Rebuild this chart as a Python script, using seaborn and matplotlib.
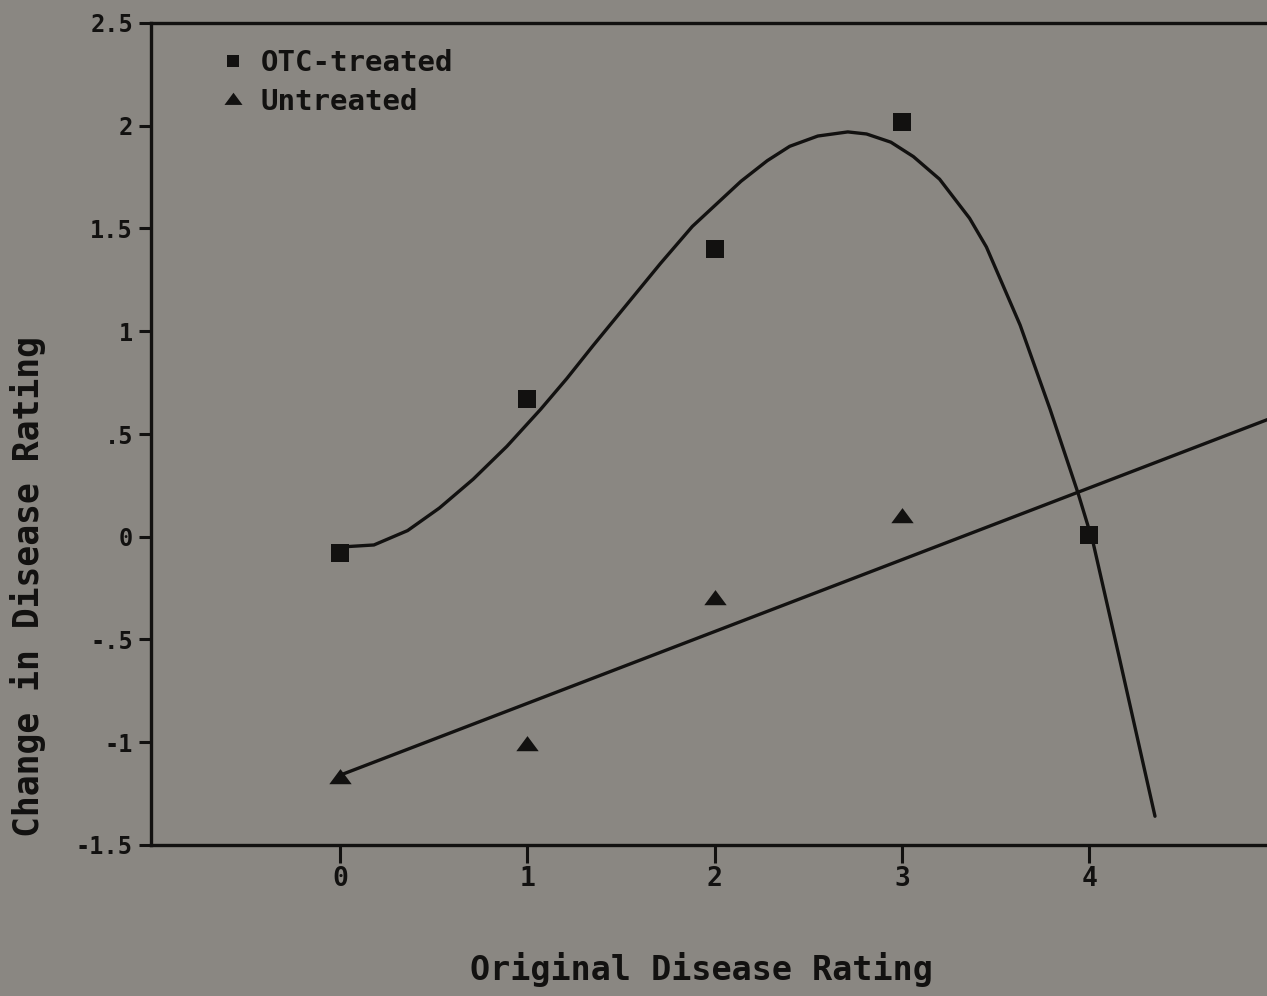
import matplotlib
matplotlib.use("Agg")
import matplotlib.pyplot as plt
from matplotlib.lines import Line2D
import seaborn as sns

# Observed mean change in disease rating by original rating
ratings = [0, 1, 2, 3, 4]
otc_change = [-0.08, 0.67, 1.40, 2.02, 0.01]
untreated_ratings = [0, 1, 2, 3]
untreated_change = [-1.17, -1.01, -0.30, 0.10]

# Fitted response curve for OTC-treated trees
otc_fit_x = [0.00, 0.18, 0.36, 0.53, 0.71, 0.89, 1.07, 1.21, 1.35, 1.53,
             1.71, 1.88, 2.14, 2.28, 2.40, 2.55, 2.71, 2.81, 2.94, 3.06,
             3.20, 3.36, 3.45, 3.63, 3.79, 3.94, 4.02, 4.16, 4.35]
otc_fit_y = [-0.05, -0.04, 0.03, 0.14, 0.28, 0.44, 0.62, 0.77, 0.93, 1.13,
             1.33, 1.51, 1.73, 1.83, 1.90, 1.95, 1.97, 1.96, 1.92, 1.85,
             1.74, 1.55, 1.41, 1.03, 0.62, 0.21, -0.03, -0.59, -1.36]

# Fitted straight line for untreated trees
untreated_fit_x = [0.0, 4.95]
untreated_fit_y = [-1.16, 0.57]

xticks = [0, 1, 2, 3, 4]
xtick_labels = ["0", "1", "2", "3", "4"]
yticks = [2.5, 2, 1.5, 1, 0.5, 0, -0.5, -1, -1.5]
ytick_labels = ["2.5", "2", "1.5", "1", ".5", "0", "-.5", "-1", "-1.5"]
series_labels = ["OTC-treated", "Untreated"]

BG = "#8a8782"
INK = "#121110"

sns.set_style("ticks")
plt.rcParams["font.family"] = ["DejaVu Sans Mono", "DejaVu Sans"]
plt.rcParams["font.weight"] = "bold"

fig = plt.figure(figsize=(12.67, 9.96), dpi=100, facecolor=BG)
W, H = 1267, 996
ax = fig.add_axes([151 / W, (H - 845) / H, (W - 151) / W, (845 - 23) / H])
ax.set_facecolor(BG)

# flattened triangle used for the untreated points
tri = [(-1.0, -0.6), (1.0, -0.6), (0.0, 0.75), (-1.0, -0.6)]

sns.lineplot(x=otc_fit_x, y=otc_fit_y, sort=False, estimator=None,
             color=INK, lw=2.4, ax=ax, solid_joinstyle="round",
             solid_capstyle="round")
sns.lineplot(x=untreated_fit_x, y=untreated_fit_y, sort=False, estimator=None,
             color=INK, lw=2.4, ax=ax)
sns.scatterplot(x=ratings, y=otc_change, marker="s", s=150, color=INK,
                linewidth=0, ax=ax, zorder=5)
sns.scatterplot(x=untreated_ratings, y=untreated_change, marker=tri, s=260,
                color=INK, linewidth=0, ax=ax, zorder=5)

ax.set_xlim(-1.01, 4.948)
ax.set_ylim(-1.5, 2.5)

ax.set_xticks(xticks)
ax.set_xticklabels(xtick_labels)
ax.set_yticks(yticks)
ax.set_yticklabels(ytick_labels)
ax.tick_params(axis="x", direction="out", length=13, width=2.2, color=INK,
               labelsize=19, labelcolor=INK, pad=2)
ax.tick_params(axis="y", direction="out", length=9, width=2.2, color=INK,
               labelsize=17, labelcolor=INK, pad=4)
for lab in ax.get_xticklabels() + ax.get_yticklabels():
    lab.set_fontweight("bold")

for side in ("left", "bottom", "top"):
    ax.spines[side].set_linewidth(2.4)
    ax.spines[side].set_color(INK)
ax.spines["right"].set_visible(False)

ax.set_xlabel("Original Disease Rating", fontsize=24, fontweight="bold",
              color=INK)
ax.xaxis.set_label_coords(0.493, -0.13)
ax.set_ylabel("Change in Disease Rating", fontsize=25, fontweight="bold",
              color=INK)
ax.yaxis.set_label_coords(-0.094, 0.315)

handles = [
    Line2D([], [], ls="", marker="s", markersize=9, color=INK, markeredgewidth=0),
    Line2D([], [], ls="", marker=tri, markersize=13, color=INK, markeredgewidth=0),
]
ax.legend(handles, series_labels, loc="upper left", bbox_to_anchor=(0.063, 0.968),
          frameon=False, handlelength=0.8, handletextpad=0.55, labelspacing=0.35,
          borderaxespad=0, borderpad=0,
          prop={"family": "DejaVu Sans Mono", "weight": "bold", "size": 21},
          labelcolor=INK)

fig.savefig("out.png", dpi=100, facecolor=BG)
